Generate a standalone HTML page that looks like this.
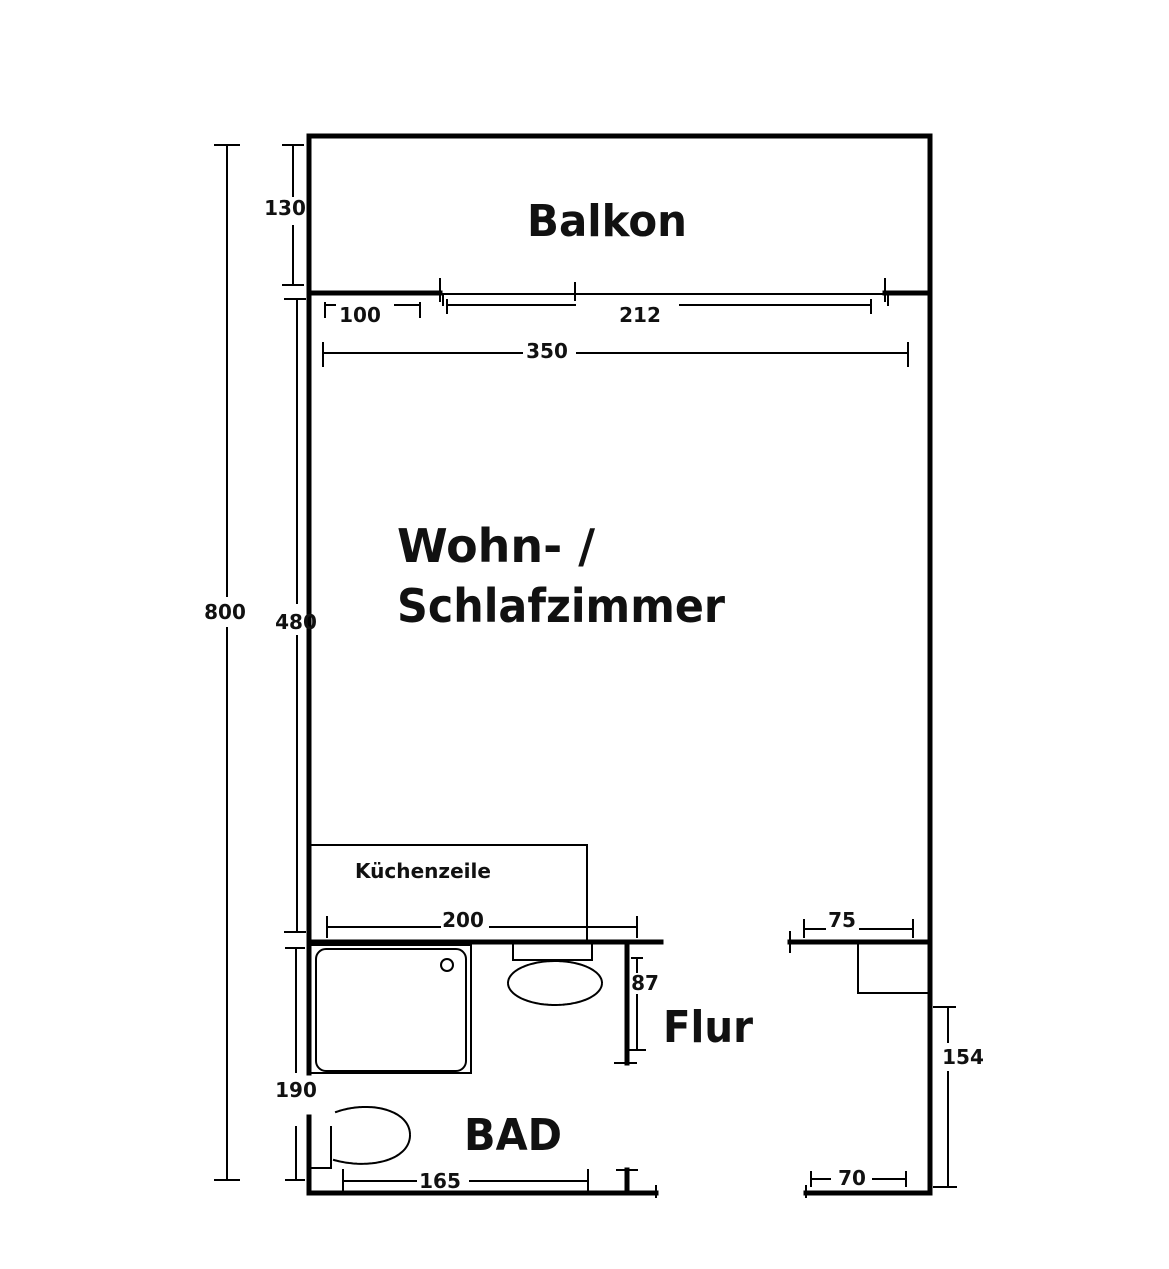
<!DOCTYPE html>
<html><head><meta charset="utf-8"><style>
html,body{margin:0;padding:0;background:#fff;}
svg{display:block;}
text{font-family:"DejaVu Sans","Liberation Sans",sans-serif;font-weight:bold;fill:#111;}
</style></head><body>
<svg width="1169" height="1269" viewBox="0 0 1169 1269" xmlns="http://www.w3.org/2000/svg">
<g stroke="#000" fill="none" stroke-linecap="square">
<g stroke-width="5">
<path d="M309 136 H930 V1193"/>
<path d="M309 136 V1073"/>
<path d="M309 1117 V1193"/>
<path d="M309 293 H440"/>
<path d="M885 293 H930"/>
<path d="M309 942 H661"/>
<path d="M790 942 H930"/>
<path d="M627 942 V1063"/>
<path d="M309 1193 H656"/>
<path d="M627 1170 V1193"/>
<path d="M806 1193 H930"/>
</g>
<g stroke-width="2">
<path d="M440 294 H885"/>
<path d="M440 279 V301 M885 279 V301 M575 283 V300 M443 296 V305 M888 294 V305"/>
<path d="M325 303 V317 M325 305 H335 M395 305 H420 M420 303 V317"/>
<path d="M447 300 V313 M447 305 H575 M680 305 H871 M871 300 V313"/>
<path d="M323 343 V366 M323 353 H522 M577 353 H908 M908 343 V366"/>
<path d="M283 145 H303 M293 145 V196 M293 226 V285 M283 285 H303"/>
<path d="M285 299 H305 M297 299 V603 M297 636 V932 M285 932 H305"/>
<path d="M215 145 H239 M227 145 V596 M227 628 V1180 M215 1180 H239"/>
<path d="M286 948 H304 M296 948 V1072"/>
<path d="M296 1127 V1180 M286 1180 H304"/>
<path d="M312 845 H587 V942"/>
<path d="M327 917 V937 M327 927 H440 M490 927 H637 M637 917 V937"/>
<path d="M312 945 H471 V1073 H309"/>
<rect x="316" y="949" width="150" height="122" rx="10"/>
<circle cx="447" cy="965" r="6"/>
<path d="M513 945 V960 H592 V945"/>
<ellipse cx="555" cy="983" rx="47" ry="22" stroke-dasharray="3 1"/>
<path d="M632 958 H642 M637 958 V972 M637 995 V1050 M630 1050 H645"/>
<path d="M615 1063 H636"/>
<path d="M331 1127 V1168 H310"/>
<path d="M336 1112 C370 1100 410 1110 410 1135 C410 1160 370 1170 334 1160" stroke-dasharray="3 1"/>
<path d="M343 1170 V1190 M343 1181 H416 M470 1181 H588 M588 1170 V1190"/>
<path d="M617 1170 H637"/>
<path d="M656 1186 V1197 M806 1186 V1197"/>
<path d="M790 932 V952 M804 920 V937 M804 929 H825 M860 929 H913 M913 920 V937"/>
<path d="M858 944 V993 H930"/>
<path d="M934 1007 H955 M948 1007 V1042 M948 1072 V1187 M934 1187 H956"/>
<path d="M811 1172 V1186 M811 1179 H830 M873 1179 H906 M906 1172 V1186"/>
</g>
</g>
<g font-size="20">
<text x="285" y="215" text-anchor="middle">130</text>
<text x="360" y="322" text-anchor="middle">100</text>
<text x="640" y="322" text-anchor="middle">212</text>
<text x="547" y="358" text-anchor="middle">350</text>
<text x="296" y="629" text-anchor="middle">480</text>
<text x="225" y="619" text-anchor="middle">800</text>
<text x="463" y="927" text-anchor="middle">200</text>
<text x="645" y="990" text-anchor="middle">87</text>
<text x="296" y="1097" text-anchor="middle">190</text>
<text x="440" y="1188" text-anchor="middle">165</text>
<text x="842" y="927" text-anchor="middle">75</text>
<text x="963" y="1064" text-anchor="middle">154</text>
<text x="852" y="1185" text-anchor="middle">70</text>
<text x="355" y="878" textLength="136" lengthAdjust="spacingAndGlyphs">Küchenzeile</text>
</g>
<text x="527" y="236" font-size="44" textLength="160" lengthAdjust="spacingAndGlyphs">Balkon</text>
<text x="397" y="562" font-size="46" textLength="198" lengthAdjust="spacingAndGlyphs">Wohn- /</text>
<text x="397" y="622" font-size="46" textLength="328" lengthAdjust="spacingAndGlyphs">Schlafzimmer</text>
<text x="663" y="1042" font-size="44" textLength="90" lengthAdjust="spacingAndGlyphs">Flur</text>
<text x="464" y="1150" font-size="44" textLength="98" lengthAdjust="spacingAndGlyphs">BAD</text>
</svg>
</body></html>
